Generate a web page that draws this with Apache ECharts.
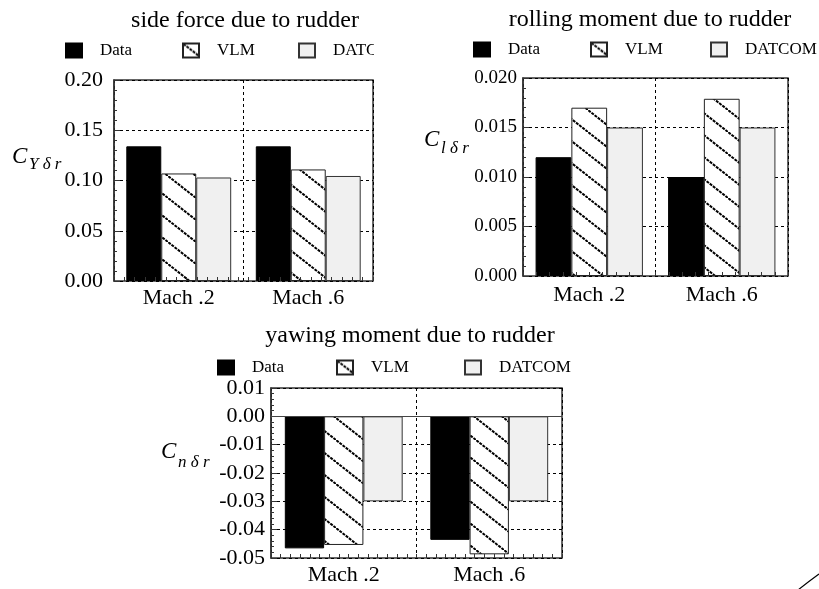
<!DOCTYPE html>
<html>
<head>
<meta charset="utf-8">
<script src="https://cdn.jsdelivr.net/npm/echarts@6/dist/echarts.min.js"></script>
<style>
  html, body { margin: 0; padding: 0; background: #fff; }
  #chart { width: 819px; height: 589px; }
</style>
</head>
<body>
<div id="chart"></div>
<script>
// Rudder control derivatives: wind-tunnel data vs. VLM vs. DATCOM
const categories = ['Mach .2', 'Mach .6'];
const seriesNames = ['Data', 'VLM', 'DATCOM'];

// side force due to rudder, C_Y δr
const sideData = [0.134, 0.134];
const sideVLM = [0.107, 0.111];
const sideDATCOM = [0.103, 0.1045];

// rolling moment due to rudder, C_l δr
const rollData = [0.012, 0.010];
const rollVLM = [0.017, 0.0179];
const rollDATCOM = [0.015, 0.015];

// yawing moment due to rudder, C_n δr
const yawData = [-0.0466, -0.0436];
const yawVLM = [-0.0454, -0.0487];
const yawDATCOM = [-0.030, -0.030];

// value-axis ranges: [min, max, step, decimals]
const sideAxis = [0.00, 0.20, 0.05, 2];
const rollAxis = [0.000, 0.020, 0.005, 3];
const yawAxis = [-0.05, 0.01, 0.01, 2];

const titles = ['side force due to rudder', 'rolling moment due to rudder', 'yawing moment due to rudder'];

const SERIF = "'Liberation Serif', 'Times New Roman', serif";

// diagonal hatch used for the VLM bars
function makeHatch() {
  const w = 28, h = 22;
  const c = document.createElement('canvas');
  c.width = w; c.height = h;
  const ctx = c.getContext('2d');
  ctx.fillStyle = '#fff';
  ctx.fillRect(0, 0, w, h);
  ctx.strokeStyle = '#000';
  ctx.lineWidth = 2;
  ctx.setLineDash([3, 1]);
  ctx.beginPath();
  ctx.moveTo(-w, -h); ctx.lineTo(2 * w, 2 * h);
  ctx.stroke();
  return c;
}
const hatch = makeHatch();

const barStyles = {
  Data: { color: '#000', borderColor: '#000', borderWidth: 1 },
  VLM: { color: { image: hatch, repeat: 'repeat' }, borderColor: '#222', borderWidth: 1 },
  DATCOM: { color: '#f0f0f0', borderColor: '#333', borderWidth: 1 }
};

// panel layout
const panels = [
  { grid: { left: 114, top: 80, width: 259, height: 201 }, axis: sideAxis, values: [sideData, sideVLM, sideDATCOM],
    yFont: 22, yMargin: 11, xFont: 22, xMargin: 6, minorCount: 25,
    legendLeft: [65, 182, 298], legendTop: 42 },
  { grid: { left: 523, top: 78, width: 265, height: 198 }, axis: rollAxis, values: [rollData, rollVLM, rollDATCOM],
    yFont: 19, yMargin: 6, xFont: 22, xMargin: 8, minorCount: 20,
    legendLeft: [473, 590, 710], legendTop: 41 },
  { grid: { left: 271, top: 388, width: 291, height: 170 }, axis: yawAxis, values: [yawData, yawVLM, yawDATCOM],
    yFont: 22, yMargin: 6, xFont: 22, xMargin: 6, minorCount: 30,
    legendLeft: [217, 336, 464], legendTop: 359 }
];

const dash = { type: [3, 3], color: '#000', width: 1 };

const grid = [], xAxis = [], yAxis = [], series = [], legend = [];

panels.forEach((p, i) => {
  grid.push(Object.assign({ show: true, borderColor: '#333', borderWidth: 1.5, backgroundColor: 'transparent' }, p.grid));

  xAxis.push({
    type: 'category', gridIndex: i, data: categories,
    axisLine: { show: false, onZero: false },
    axisTick: { show: false },
    axisLabel: { color: '#000', fontFamily: SERIF, fontSize: p.xFont, margin: p.xMargin },
    splitLine: { show: true, interval: 0, lineStyle: dash }
  });

  const [mn, mx, step, dec] = p.axis;
  yAxis.push({
    type: 'value', gridIndex: i, min: mn, max: mx, interval: step,
    axisLine: { show: true, onZero: false, lineStyle: { color: '#333', width: 1.5 } },
    axisTick: { show: true, inside: true, length: 6, lineStyle: { color: '#333' } },
    minorTick: { show: true, splitNumber: 5, length: 3, lineStyle: { color: '#333' } },
    axisLabel: {
      color: '#000', fontFamily: SERIF, fontSize: p.yFont, margin: p.yMargin,
      formatter: v => (Math.abs(v) < 1e-9 ? 0 : v).toFixed(dec)
    },
    splitLine: { show: true, lineStyle: dash }
  });

  p.values.forEach((vals, k) => {
    const s = {
      name: seriesNames[k], type: 'bar', xAxisIndex: i, yAxisIndex: i,
      data: vals, barGap: '0%', barCategoryGap: '19%',
      itemStyle: barStyles[seriesNames[k]], emphasis: { disabled: true }
    };
    if (i === 2 && k === 0) {
      // solid zero line across the yawing-moment panel
      s.markLine = {
        silent: true, symbol: 'none', label: { show: false },
        lineStyle: { type: 'solid', color: '#444', width: 1 },
        data: [{ yAxis: 0 }]
      };
    }
    series.push(s);
  });

  seriesNames.forEach((name, k) => {
    legend.push({
      data: [name], left: p.legendLeft[k], top: p.legendTop, padding: 0,
      icon: 'rect', itemWidth: 16, itemHeight: 14, selectedMode: false,
      textStyle: { color: '#000', fontFamily: SERIF, fontSize: 17, padding: [0, 0, 0, 13] }
    });
  });
});

// fine ticks along the bottom edge of each panel
panels.forEach((p, i) => {
  xAxis.push({
    type: 'value', gridIndex: i, min: 0, max: p.minorCount, interval: 1, position: 'bottom', z: 10,
    axisLine: { show: false, onZero: false },
    axisTick: { show: true, inside: true, length: 4, lineStyle: { color: '#333' } },
    axisLabel: { show: false },
    splitLine: { show: false }
  });
});

const titleText = (text, x, y) => ({
  type: 'text', x, y, z: 50,
  style: { text, fill: '#000', font: `24px ${SERIF}`, textAlign: 'center', textVerticalAlign: 'middle' }
});
const symText = (text, x, y, size) => ({
  type: 'text', x, y, z: 50,
  style: { text, fill: '#000', font: `italic ${size}px ${SERIF}`, textAlign: 'left', textVerticalAlign: 'middle' }
});

const graphic = [
  titleText(titles[0], 245, 21),
  titleText(titles[1], 650, 20),
  titleText(titles[2], 410, 336),
  // axis symbols
  symText('C', 12, 157, 23), symText('Y \u03b4 r', 29, 165, 17),
  symText('C', 424, 140, 23), symText('l \u03b4 r', 441, 149, 17),
  symText('C', 161, 452, 23), symText('n \u03b4 r', 178, 463, 17),
  // the right-hand panel sits over the end of the first legend
  { type: 'rect', z: 40, shape: { x: 374, y: 36, width: 60, height: 26 }, style: { fill: '#fff' } },
  // stray stroke in the lower-right corner
  { type: 'bezierCurve', z: 50,
    shape: { x1: 798, y1: 590, x2: 819, y2: 574, cpx1: 808, cpy1: 582 },
    style: { stroke: '#000', lineWidth: 1.2, fill: null } }
];

const chart = echarts.init(document.getElementById('chart'), null, { renderer: 'canvas' });
chart.setOption({
  animation: false,
  backgroundColor: '#fff',
  textStyle: { fontFamily: SERIF },
  grid, xAxis, yAxis, series, legend, graphic
});
</script>
</body>
</html>
